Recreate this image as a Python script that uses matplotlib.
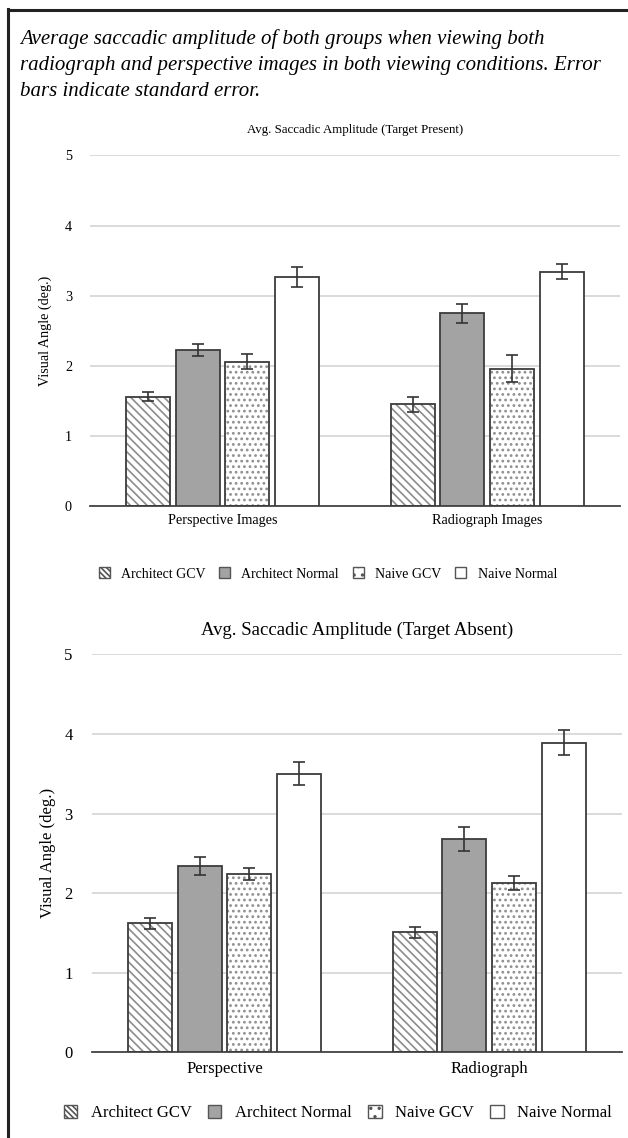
import numpy as np
import matplotlib
matplotlib.use("Agg")
import matplotlib.pyplot as plt
from matplotlib.patches import Patch

plt.rcParams["font.family"] = ["Liberation Serif", "DejaVu Serif"]
plt.rcParams["hatch.linewidth"] = 1.2

# ── datos ──
grupos = ["Architect GCV", "Architect Normal", "Naive GCV", "Naive Normal"]

cat_present = ["Perspective Images", "Radiograph Images"]
media_present = [[1.56, 1.45], [2.23, 2.75], [2.06, 1.96], [3.27, 3.34]]
error_present = [[0.065, 0.105], [0.085, 0.135], [0.105, 0.19], [0.14, 0.105]]

cat_absent = ["Perspective", "Radiograph"]
media_absent = [[1.62, 1.51], [2.34, 2.68], [2.24, 2.13], [3.50, 3.89]]
error_absent = [[0.07, 0.07], [0.115, 0.15], [0.08, 0.09], [0.145, 0.16]]

titulo_present = "Avg. Saccadic Amplitude (Target Present)"
titulo_absent = "Avg. Saccadic Amplitude (Target Absent)"
caption = ("Average saccadic amplitude of both groups when viewing both\n"
           "radiograph and perspective images in both viewing conditions. Error\n"
           "bars indicate standard error.")

# estilos por grupo: (relleno, trama, color de trama)
estilos = [("white", "\\\\\\\\", "#8c8c8c"),
           ("#a3a3a3", None, None),
           ("white", "...", "#8f8f8f"),
           ("white", None, None)]
borde = "#3c3c3c"


def dibujar(ax, categorias, medias, errores, titulo, fs_tick, fs_title,
            ancho, pad_y, pad_title):
    x = np.arange(len(categorias))
    for i, (media, err) in enumerate(zip(medias, errores)):
        pos = x + (i - 1.5) * (ancho + 0.022)
        fc, hatch, hc = estilos[i]
        if hatch:
            ax.bar(pos, media, ancho, color=fc, hatch=hatch, edgecolor=hc,
                   linewidth=0, zorder=2)
            ax.bar(pos, media, ancho, fill=False, edgecolor=borde,
                   linewidth=1.3, zorder=3)
        else:
            ax.bar(pos, media, ancho, color=fc, edgecolor=borde,
                   linewidth=1.3, zorder=3)
        ax.errorbar(pos, media, yerr=err, fmt="none", ecolor="#333333",
                    elinewidth=1.2, capsize=4, capthick=1.2, zorder=4)
    ax.set_xlim(-0.5, len(categorias) - 0.5)
    ax.set_ylim(0, 5)
    ax.set_yticks(range(6))
    ax.set_xticks(x)
    ax.set_xticklabels(categorias, fontsize=fs_tick)
    ax.tick_params(axis="y", labelsize=fs_tick, length=0, pad=pad_y)
    ax.tick_params(axis="x", length=0, pad=6)
    ax.grid(axis="y", color="#d4d4d4", linewidth=1.2, zorder=0)
    ax.set_axisbelow(True)
    for lado in ["left", "right", "top"]:
        ax.spines[lado].set_visible(False)
    ax.spines["bottom"].set_color("#444444")
    ax.spines["bottom"].set_linewidth(1.3)
    ax.set_title(titulo, fontsize=fs_title, pad=pad_title)


fig = plt.figure(figsize=(6.28, 11.38), dpi=100)

# marco
fig.add_artist(plt.Line2D([0.012, 0.012], [0, 0.992], color="#222222", lw=2.2))
fig.add_artist(plt.Line2D([0.012, 1.0], [0.991, 0.991], color="#222222", lw=2.2))

fig.text(0.032, 0.974, caption, fontsize=15, style="italic", va="top",
         ha="left", linespacing=1.47)

ax1 = fig.add_axes([0.1433, 0.5554, 0.8437, 0.3080])
dibujar(ax1, cat_present, media_present, error_present, titulo_present,
        10.2, 9.3, 0.166, 13, 16)
ax1.set_ylabel("Visual Angle (deg.)", fontsize=10.2, labelpad=9)

ax2 = fig.add_axes([0.1465, 0.0753, 0.8435, 0.3497])
dibujar(ax2, cat_absent, media_absent, error_absent, titulo_absent,
        12, 13.5, 0.166, 14, 14)
ax2.set_ylabel("Visual Angle (deg.)", fontsize=12, labelpad=6)

hatch_leyenda = ["\\\\\\\\\\\\", None, "..", None]
handles = [Patch(facecolor=fc, edgecolor="#555555", hatch=hl, linewidth=1)
           for (fc, h, hc), hl in zip(estilos, hatch_leyenda)]

fig.legend(handles, grupos, loc="center", bbox_to_anchor=(0.522, 0.4956),
           ncol=4, frameon=False, fontsize=10, handlelength=0.8,
           handleheight=0.8, columnspacing=1.0, handletextpad=0.8)
fig.legend(handles, grupos, loc="center", bbox_to_anchor=(0.538, 0.022),
           ncol=4, frameon=False, fontsize=12, handlelength=0.8,
           handleheight=0.8, columnspacing=1.0, handletextpad=0.8)

fig.savefig("out.png", dpi=100)
